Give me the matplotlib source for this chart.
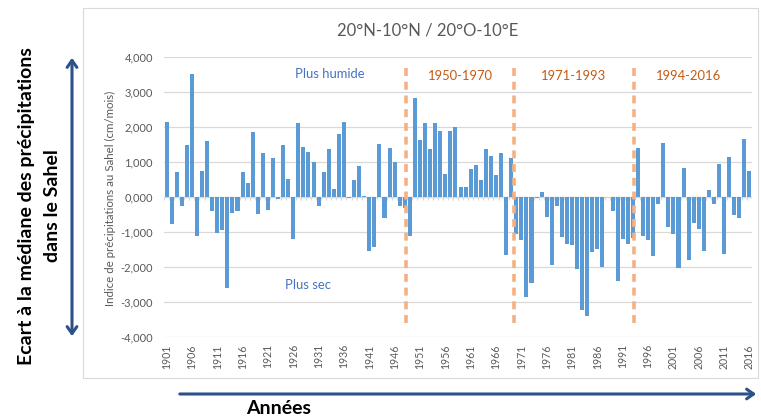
import matplotlib
matplotlib.use("Agg")
import matplotlib.pyplot as plt
from matplotlib.patches import Rectangle, FancyArrowPatch

# Sahel rainfall index, 1901-2016
years = list(range(1901, 2017))
indice = [
    2150, -750, 730, -260, 1480, 3520, -1100, 760, 1620, -380,
    -1010, -930, -2580, -460, -390, 710, 400, 1860, -480, 1260,
    -360, 1110, -60, 1490, 530, -1200, 2130, 1440, 1280, 1000,
    -250, 710, 1370, 250, 1810, 2150, -30, 480, 880, 30,
    -1520, -1430, 1520, -590, 1410, 1020, -250, -300, -1100, 2830,
    1640, 2130, 1390, 2130, 1880, 670, 1900, 2020, 290, 290,
    800, 920, 480, 1380, 1180, 650, 1260, -1650, 1110, -1050,
    -1220, -2850, -2440, -30, 160, -550, -1930, -250, -1130, -1320,
    -1370, -2040, -3210, -3380, -1550, -1490, -1990, 10, -390, -2380,
    -1180, -1340, -1150, 1400, -1100, -1210, -1680, -190, 1540, -840,
    -1050, -2030, 830, -1780, -730, -900, -1540, 220, -190, 940,
    -1620, 1150, -510, -600, 1670, 760,
]
periodes = ["1950-1970", "1971-1993", "1994-2016"]
separations = [1948.2, 1969.6, 1993.2]

W, H = 761, 418
GREY = "#595959"
BLUE = "#5B9BD5"
NAVY = "#2B5288"

plt.rcParams["font.family"] = ["Lato", "DejaVu Sans"]

fig = plt.figure(figsize=(W / 100, H / 100), dpi=100)

def fx(px):
    return px / W

def fy(py):
    return 1 - py / H

ax = fig.add_axes([fx(164), fy(337.3), fx(752) - fx(164), fy(57.3) - fy(337.3)])

ax.bar(years, indice, width=0.8, color=BLUE, zorder=2)
ax.set_xlim(years[0] - 0.5, years[-1] + 0.5)
ax.set_ylim(-4000, 4000)

yt = list(range(-4000, 4001, 1000))
ax.set_yticks(yt)
ax.set_yticklabels([f"{v / 1000:.3f}".replace(".", ",") for v in yt])
ax.yaxis.grid(True, color="#D9D9D9", lw=0.9)
ax.set_axisbelow(True)
ax.set_xticks(years[::5])
ax.set_xticklabels([str(y) for y in years[::5]], rotation=90)
ax.tick_params(axis="both", length=0, colors=GREY)
ax.tick_params(axis="y", pad=8, labelsize=8)
ax.tick_params(axis="x", pad=5, labelsize=7.6)
for s in ax.spines.values():
    s.set_visible(False)

# category axis at zero with small tick marks
ax.axhline(0, color="#D9D9D9", lw=0.9, zorder=1)
ax.vlines([y - 0.5 for y in years] + [years[-1] + 0.5], -90, 0,
          color="#D9D9D9", lw=0.8, zorder=1)

fig.text(fx(110), fy(198), "Indice de précipitations au Sahel (cm/mois)",
         rotation=90, ha="center", va="center", fontsize=8.3, color=GREY)

# period separators and labels
for xs in separations:
    ax.plot([xs, xs], [-3600, 3700], color="#F4B183", lw=2.6,
            ls=(0, (2.2, 1.6)), zorder=3)
for lab, xc in zip(periodes, [1958.9, 1981.2, 2003.9]):
    ax.text(xc, 3480, lab, color="#C55A11", fontsize=9.4, ha="center", va="center")
ax.text(1933.2, 3530, "Plus humide", color="#4472C4", fontsize=9.4,
        ha="center", va="center")
ax.text(1928.9, -2500, "Plus sec", color="#4472C4", fontsize=9.4,
        ha="center", va="center")

fig.text(fx(428), fy(30), "20°N-10°N / 20°O-10°E", color=GREY, fontsize=12,
         ha="center", va="center")

# chart frame
fig.patches.append(Rectangle((fx(83), fy(378)), fx(758) - fx(83), fy(8) - fy(378),
                             transform=fig.transFigure, fill=False,
                             ec="#D9D9D9", lw=0.8))

# outer annotations
fig.text(fx(27), fy(206), "Ecart à la médiane des précipitations", rotation=90,
         ha="center", va="center", fontsize=14, weight="bold")
fig.text(fx(52), fy(206), "dans le Sahel", rotation=90,
         ha="center", va="center", fontsize=14, weight="bold")
fig.patches.append(FancyArrowPatch((fx(72), fy(55)), (fx(72), fy(339)),
                                   transform=fig.transFigure, color=NAVY, lw=2.2,
                                   arrowstyle="<->,head_length=5,head_width=3.5"))
fig.patches.append(FancyArrowPatch((fx(177), fy(394)), (fx(759), fy(394)),
                                   transform=fig.transFigure, color=NAVY, lw=2.2,
                                   arrowstyle="->,head_length=5,head_width=3.5"))
fig.text(fx(279), fy(408), "Années", ha="center", va="center",
         fontsize=14, weight="bold")

fig.savefig("out.png", dpi=100)
